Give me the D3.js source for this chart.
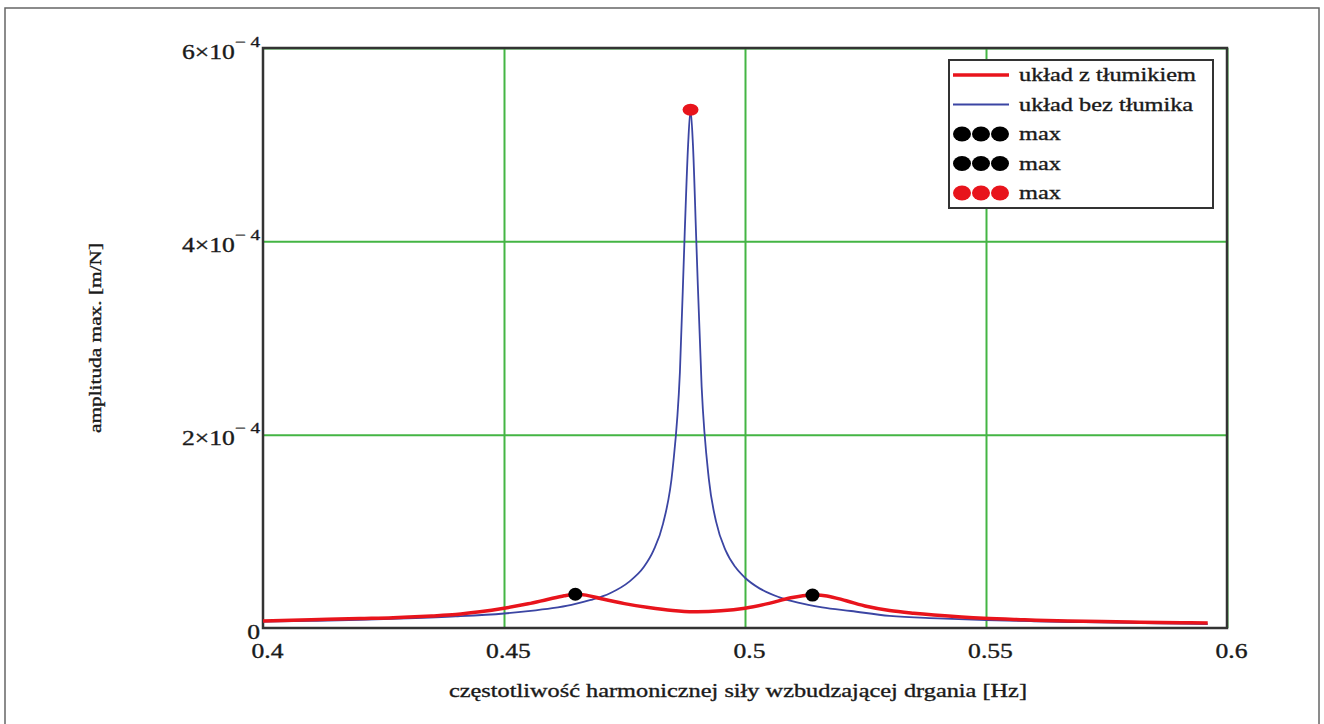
<!DOCTYPE html>
<html>
<head>
<meta charset="utf-8">
<script src="https://cdn.jsdelivr.net/npm/d3@7"></script>
<style>
  body { margin: 0; background: #fff; }
  svg text { font-family: "Liberation Serif", "Times New Roman", serif; fill: #1a1a1a; stroke: #1a1a1a; stroke-width: 0.35; }
</style>
</head>
<body>
<div id="chart"></div>
<script>
'use strict';

// frequency [Hz] / amplitude [1e-4 m/N]
var freqDamped = [0.400, 0.410, 0.420, 0.427, 0.435, 0.440, 0.445, 0.450, 0.455, 0.459, 0.4625, 0.4648,
  0.467, 0.470, 0.475, 0.480, 0.485, 0.4894, 0.495, 0.500, 0.505, 0.5095, 0.514, 0.517, 0.521, 0.5254,
  0.530, 0.535, 0.5392, 0.5495, 0.558, 0.567, 0.580, 0.5905, 0.596];
var ampDamped = [0.072, 0.085, 0.098, 0.107, 0.125, 0.140, 0.168, 0.205, 0.250, 0.295, 0.333, 0.349,
  0.340, 0.305, 0.252, 0.212, 0.182, 0.169, 0.178, 0.205, 0.255, 0.312, 0.341, 0.332, 0.282, 0.222,
  0.180, 0.152, 0.134, 0.100, 0.085, 0.072, 0.062, 0.055, 0.052];

var freqFree = [0.400, 0.410, 0.420, 0.430, 0.440, 0.450, 0.455, 0.460, 0.464, 0.468, 0.472, 0.476,
  0.479, 0.481, 0.483, 0.485, 0.4865, 0.4875, 0.4882, 0.4887, 0.4892, 0.4899, 0.491, 0.4925, 0.494,
  0.496, 0.498, 0.500, 0.503, 0.507, 0.511, 0.516, 0.522, 0.530, 0.540, 0.550, 0.560, 0.570, 0.580,
  0.590, 0.596];
var ampFree = [0.066, 0.074, 0.085, 0.100, 0.120, 0.150, 0.174, 0.205, 0.240, 0.290, 0.360, 0.480,
  0.630, 0.800, 1.080, 1.650, 2.650, 4.100, 5.000, 5.360, 5.000, 4.000, 2.500, 1.540, 1.100,
  0.800, 0.630, 0.520, 0.410, 0.320, 0.262, 0.214, 0.176, 0.125, 0.100, 0.083, 0.070, 0.060, 0.052,
  0.045, 0.041];

// maxima markers
var maxDampedF = [0.4648, 0.514];
var maxDampedA = [0.349, 0.341];
var maxFreeF = [0.4887];
var maxFreeA = [5.36];

var xTicks = [0.4, 0.45, 0.5, 0.55, 0.6];
var xTickLabels = ['0.4', '0.45', '0.5', '0.55', '0.6'];
var yTicks = [0, 2, 4, 6];
var yTickLabels = ['0', '2×10', '4×10', '6×10'];

var legendLabels = ['układ z tłumikiem', 'układ bez tłumika', 'max', 'max', 'max'];
var xTitle = 'częstotliwość harmonicznej siły wzbudzającej drgania [Hz]';
var yTitle = 'amplituda max. [m/N]';

var width = 1324, height = 724;
var plot = {left: 263, top: 48, right: 1227, bottom: 628};
var stretch = 1.28;

var red = '#e8141c', blue = '#3b45a3', green = '#44b544', ink = '#333';

var svg = d3.select('#chart').append('svg')
  .attr('width', width)
  .attr('height', height);

// outer frame
svg.append('rect')
  .attr('x', 5).attr('y', 8)
  .attr('width', 1314).attr('height', 730)
  .attr('fill', 'none')
  .attr('stroke', '#666')
  .attr('stroke-width', 1.5);

var x = d3.scaleLinear().domain([0.4, 0.6]).range([plot.left, plot.right]);
var y = d3.scaleLinear().domain([0, 6]).range([plot.bottom, plot.top]);

// grid
svg.append('g')
  .attr('transform', 'translate(0,' + plot.bottom + ')')
  .call(d3.axisBottom(x).tickValues(xTicks.slice(1)).tickSize(-(plot.bottom - plot.top)).tickFormat(''))
  .call(function(g){
    g.select('.domain').remove();
    g.selectAll('line').attr('stroke', green).attr('stroke-width', 2);
  });

svg.append('g')
  .attr('transform', 'translate(' + plot.left + ',0)')
  .call(d3.axisLeft(y).tickValues(yTicks.slice(1)).tickSize(-(plot.right - plot.left)).tickFormat(''))
  .call(function(g){
    g.select('.domain').remove();
    g.selectAll('line').attr('stroke', green).attr('stroke-width', 2);
  });

// plot frame
svg.append('rect')
  .attr('x', plot.left).attr('y', plot.top)
  .attr('width', plot.right - plot.left).attr('height', plot.bottom - plot.top)
  .attr('fill', 'none')
  .attr('stroke', ink)
  .attr('stroke-width', 2.5);

// x tick labels
svg.append('g')
  .attr('transform', 'translate(0,' + plot.bottom + ')')
  .call(d3.axisBottom(x).tickValues(xTicks).tickSize(0)
    .tickFormat(function(d, i){ return xTickLabels[i]; }))
  .call(function(g){
    g.select('.domain').remove();
    g.selectAll('text')
      .attr('y', 0).attr('dy', 0)
      .attr('font-size', 20)
      .attr('transform', 'translate(4,30) scale(' + stretch + ',1)');
  });

// y tick labels (with x10^-4 superscript)
svg.append('g')
  .attr('transform', 'translate(' + plot.left + ',0)')
  .call(d3.axisLeft(y).tickValues(yTicks).tickSize(0).tickFormat(''))
  .call(function(g){
    g.select('.domain').remove();
    g.selectAll('.tick').each(function(d, i){
      var t = d3.select(this).append('text')
        .attr('text-anchor', 'end')
        .attr('font-size', 20)
        .attr('transform', 'translate(-3,10) scale(' + stretch + ',1)');
      t.append('tspan').text(yTickLabels[i]);
      if (d !== 0){
        t.append('tspan')
          .attr('font-size', 15)
          .attr('dy', -12)
          .text('− 4');
      }
    });
  });

// curves
var line = d3.line()
  .x(function(d){ return x(d[0]); })
  .y(function(d){ return y(d[1]); })
  .curve(d3.curveMonotoneX);

svg.append('path')
  .datum(d3.zip(freqFree, ampFree))
  .attr('d', line)
  .attr('fill', 'none')
  .attr('stroke', blue)
  .attr('stroke-width', 1.8);

svg.append('path')
  .datum(d3.zip(freqDamped, ampDamped))
  .attr('d', line.curve(d3.curveCatmullRom.alpha(0.5)))
  .attr('fill', 'none')
  .attr('stroke', red)
  .attr('stroke-width', 3.5);

svg.selectAll('ellipse.maxDamped')
  .data(d3.zip(maxDampedF, maxDampedA))
  .enter().append('ellipse')
    .attr('class', 'maxDamped')
    .attr('cx', function(d){ return x(d[0]); })
    .attr('cy', function(d){ return y(d[1]); })
    .attr('rx', 7).attr('ry', 6.5)
    .attr('fill', '#000');

svg.selectAll('ellipse.maxFree')
  .data(d3.zip(maxFreeF, maxFreeA))
  .enter().append('ellipse')
    .attr('class', 'maxFree')
    .attr('cx', function(d){ return x(d[0]); })
    .attr('cy', function(d){ return y(d[1]); })
    .attr('rx', 8).attr('ry', 6)
    .attr('fill', red);

// axis titles
svg.append('text')
  .attr('text-anchor', 'middle')
  .attr('font-size', 19)
  .attr('transform', 'translate(738,697) scale(' + stretch + ',1)')
  .text(xTitle);

svg.append('text')
  .attr('text-anchor', 'middle')
  .attr('font-size', 17)
  .attr('textLength', 190)
  .attr('lengthAdjust', 'spacingAndGlyphs')
  .attr('transform', 'translate(101,338) rotate(-90)')
  .text(yTitle);

// legend
var legend = svg.append('g').attr('transform', 'translate(949,60)');
legend.append('rect')
  .attr('width', 264).attr('height', 148)
  .attr('fill', '#fff')
  .attr('stroke', ink)
  .attr('stroke-width', 2);

var rowY = function(i){ return 15 + i * 29.5; };
var swatchColors = [red, blue, '#000', '#000', red];

legend.selectAll('g.row')
  .data(legendLabels)
  .enter().append('g')
    .attr('class', 'row')
    .attr('transform', function(d, i){ return 'translate(0,' + rowY(i) + ')'; })
    .each(function(d, i){
      var g = d3.select(this);
      if (i < 2){
        g.append('line')
          .attr('x1', 4).attr('x2', 60)
          .attr('stroke', swatchColors[i])
          .attr('stroke-width', i === 0 ? 3.5 : 1.8);
      } else {
        [13, 32, 51].forEach(function(cx){
          g.append('ellipse')
            .attr('cx', cx).attr('rx', 9).attr('ry', 7.5)
            .attr('fill', swatchColors[i]);
        });
      }
      g.append('text')
        .attr('font-size', 19)
        .attr('transform', 'translate(70,6) scale(' + stretch + ',1)')
        .text(d);
    });
</script>
</body>
</html>
